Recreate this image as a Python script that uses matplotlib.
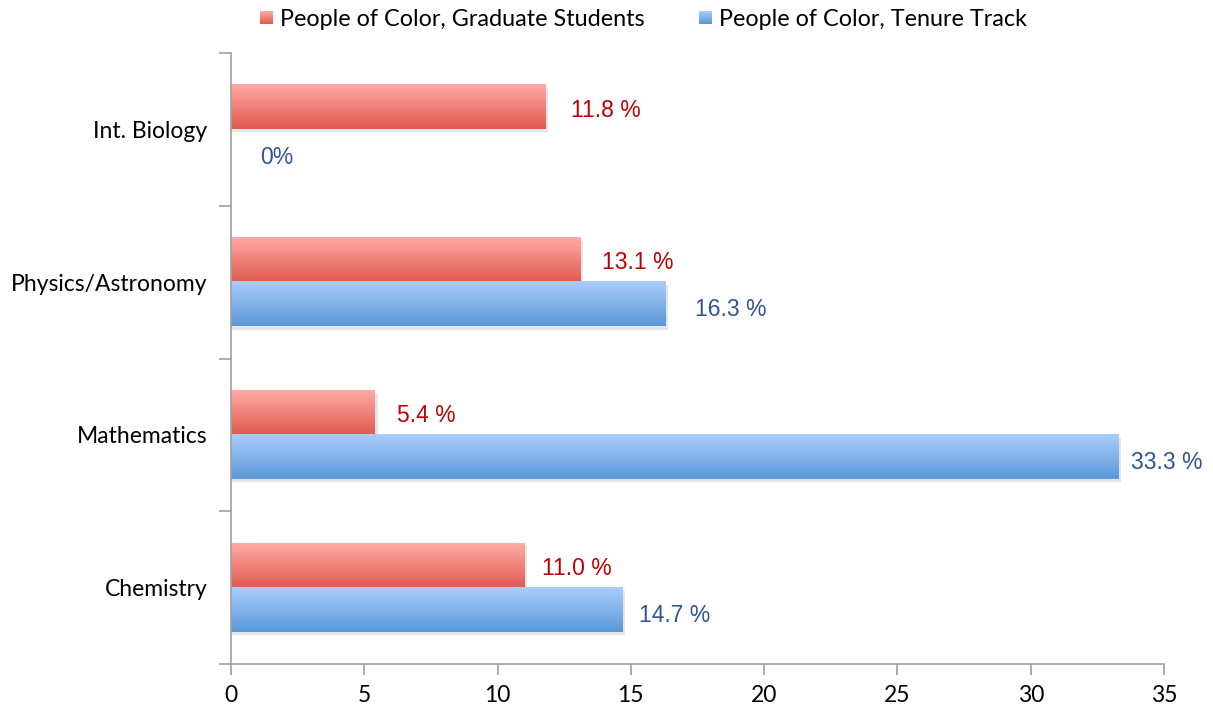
import matplotlib.pyplot as plt
import numpy as np
from matplotlib.colors import LinearSegmentedColormap
from matplotlib.patches import Rectangle

# departments, bottom to top
departments = ["Chemistry", "Mathematics", "Physics/Astronomy", "Int. Biology"]
grad_students = [11.0, 5.4, 13.1, 11.8]
tenure_track = [14.7, 33.3, 16.3, 0.0]
grad_labels = ["11.0 %", "5.4 %", "13.1 %", "11.8 %"]
tenure_labels = ["14.7 %", "33.3 %", "16.3 %", "0%"]

# horizontal gap (points) between bar end and its value label
grad_pad = [13, 16, 16, 18]
tenure_pad = [12, 9, 21, 21]

red_cmap = LinearSegmentedColormap.from_list("red_grad", ["#e05a50", "#ffaaa6"])
blue_cmap = LinearSegmentedColormap.from_list("blue_grad", ["#5a98d8", "#aacdfb"])
grad = np.linspace(0, 1, 64).reshape(-1, 1)

fig = plt.figure(figsize=(12.13, 7.08), dpi=100)
ax = fig.add_axes([0.1904, 0.0621, 0.7692, 0.8630])

bar_h = 0.29
y = np.arange(len(departments))


def gradient_bar(ax, x0, w, yc, h, cmap):
    if w <= 0:
        return
    # soft drop shadow under the bar
    ax.add_patch(Rectangle((x0, yc - h / 2 - 0.02), w + 0.1, h, color="#000000",
                           alpha=0.10, lw=0, zorder=1))
    ax.imshow(grad, cmap=cmap, extent=[x0, x0 + w, yc - h / 2, yc + h / 2],
              origin="lower", aspect="auto", zorder=2, interpolation="bicubic")


for i in range(len(departments)):
    gradient_bar(ax, 0, grad_students[i], y[i] + bar_h / 2, bar_h, red_cmap)
    gradient_bar(ax, 0, tenure_track[i], y[i] - bar_h / 2, bar_h, blue_cmap)
    ax.annotate(grad_labels[i], (grad_students[i], y[i] + bar_h / 2),
                xytext=(grad_pad[i], -2), textcoords="offset points", va="center",
                ha="left", fontsize=16.5, color="#c00000", family="Liberation Sans")
    ax.annotate(tenure_labels[i], (tenure_track[i], y[i] - bar_h / 2),
                xytext=(tenure_pad[i], -4), textcoords="offset points", va="center",
                ha="left", fontsize=16.5, color="#2f5597", family="Liberation Sans")

ax.set_xlim(0, 35)
ax.set_ylim(-0.5, 3.5)
ax.set_xticks(np.arange(0, 36, 5))
ax.set_yticks(y)
ax.set_yticklabels(departments)
ax.set_yticks(np.arange(-0.5, 4, 1), minor=True)
ax.tick_params(axis="y", which="major", length=0, pad=17, labelsize=16.5)
ax.tick_params(axis="y", which="minor", length=9, color="#a0a0a0", width=1.2)
ax.tick_params(axis="x", length=8, color="#a0a0a0", width=1.2, labelsize=16.5, pad=7)
for lab in ax.get_xticklabels() + ax.get_yticklabels():
    lab.set_family("Lato")

for s in ["top", "right"]:
    ax.spines[s].set_visible(False)
for s in ["left", "bottom"]:
    ax.spines[s].set_color("#a0a0a0")
    ax.spines[s].set_linewidth(1.2)

# legend drawn by hand so the swatches keep the gradient
legend_items = [("People of Color, Graduate Students", red_cmap, 260),
                ("People of Color, Tenure Track", blue_cmap, 699)]
W, H = 1213, 708
for text, cmap, px in legend_items:
    sw = fig.add_axes([px / W, 1 - 24 / H, 13 / W, 13 / H])
    sw.imshow(grad, cmap=cmap, origin="lower", aspect="auto")
    sw.axis("off")
    fig.text((px + 20) / W, 1 - 19 / H, text, fontsize=16.8, family="Lato",
             va="center", ha="left")

fig.savefig("out.png", dpi=100)
